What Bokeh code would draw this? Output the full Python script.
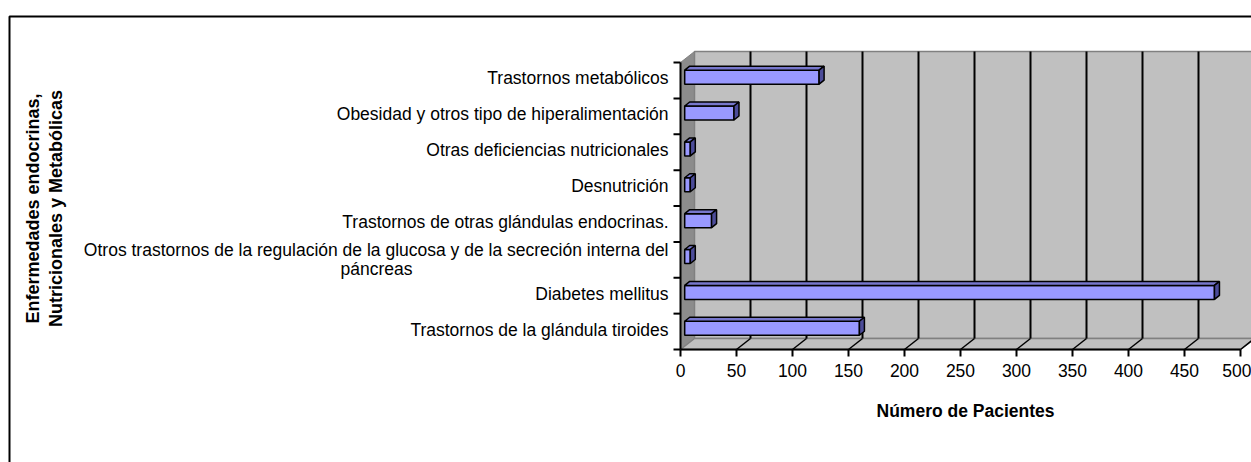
import math
from bokeh.plotting import figure
from bokeh.models import Range1d, LinearAxis, FixedTicker, Label, PolyAnnotation
from bokeh.embed import file_html
from bokeh.resources import INLINE

# ---- data (bottom to top) ----
categories = [
    "Trastornos de la glándula tiroides",
    "Diabetes mellitus",
    "Otros trastornos de la regulación de la glucosa y de la secreción interna del\npáncreas",
    "Trastornos de otras glándulas endocrinas.",
    "Desnutrición",
    "Otras deficiencias nutricionales",
    "Obesidad y otros tipo de hiperalimentación",
    "Trastornos metabólicos",
]
values = [156, 473, 5, 24, 5, 5, 44, 120]
x_ticks = [0, 50, 100, 150, 200, 250, 300, 350, 400, 450, 500]
x_title = "Número de Pacientes"
y_title_lines = ["Enfermedades endocrinas,", "Nutricionales y Metabólicas"]

# ---- layout constants ----
FONT = "Liberation Sans"
FS = "17.5px"
W, H = 1251, 462
X0PX, Y0PX = 680, 349   # pixel position of the value origin
SX = 1.12               # px per value unit
SY = 35.875             # px per category
n = len(categories)
x_max = x_ticks[-1]


def dx(px):
    return (px - X0PX) / SX


def dy(py):
    return (Y0PX - py) / SY


DX = 14 / SX   # 3D depth offsets (data units)
DY = 11 / SY

p = figure(width=W, height=H,
           x_range=Range1d(dx(0), dx(W)), y_range=Range1d(dy(H), dy(0)),
           x_axis_type=None, y_axis_type=None, output_backend="svg",
           toolbar_location=None, min_border_left=0, min_border_right=0,
           min_border_top=0, min_border_bottom=0)
p.outline_line_color = None
p.background_fill_color = "white"
p.border_fill_color = "white"

# walls and floor
p.patch([0, DX, DX, 0], [0, DY, n + DY, n], fill_color="#8c8c8c", line_color="#808080", line_width=1)
p.quad(left=[DX], right=[DX + x_max], bottom=[DY], top=[n + DY],
       fill_color="#C0C0C0", line_color="#808080", line_width=1.5)
p.patch([0, x_max, x_max + DX, DX], [0, 0, DY, DY], fill_color="#C0C0C0",
        line_color="#808080", line_width=1.5)

# gridlines on back wall and floor
gt = x_ticks[1:]
p.segment(x0=[DX + t for t in gt], y0=[DY] * len(gt), x1=[DX + t for t in gt], y1=[n + DY] * len(gt),
          line_color="black", line_width=2)
p.segment(x0=gt, y0=[0] * len(gt), x1=[DX + t for t in gt], y1=[DY] * len(gt),
          line_color="black", line_width=1.5)

# bars
fdx, fdy = 0.3 * DX, 0.3 * DY
bdx, bdy = 5 / SX, 4 / SY
hh = 7 / SY
centers = [i + 0.5 for i in range(n)]
lefts = [fdx] * n
rights = [fdx + v for v in values]
bots = [c + fdy - hh for c in centers]
tops = [c + fdy + hh for c in centers]
p.quad(left=lefts, right=rights, bottom=bots, top=tops, fill_color="#9999FF",
       line_color="black", line_width=1.5)
p.patches(xs=[[l, r, r + bdx, l + bdx] for l, r in zip(lefts, rights)],
          ys=[[t, t, t + bdy, t + bdy] for t in tops],
          fill_color="#7777CC", line_color="black", line_width=1.5)
p.patches(xs=[[r, r + bdx, r + bdx, r] for r in rights],
          ys=[[b, b + bdy, t + bdy, t] for b, t in zip(bots, tops)],
          fill_color="#4C4C99", line_color="black", line_width=1.5)

# x axis (drawn at the value origin)
xaxis = LinearAxis(ticker=FixedTicker(ticks=x_ticks), bounds=(0, x_max), fixed_location=0)
xaxis.axis_line_width = 2
xaxis.major_tick_line_width = 2
xaxis.major_tick_out = 7
xaxis.major_tick_in = 0
xaxis.minor_tick_out = 0
xaxis.major_label_standoff = 7
xaxis.major_label_text_font = FONT
xaxis.major_label_text_font_size = FS
xaxis.major_label_text_color = "black"
p.add_layout(xaxis, "below")

# category axis: line and boundary ticks
bounds_y = list(range(n + 1))
p.segment(x0=[0], y0=[0], x1=[0], y1=[n], line_color="black", line_width=2)
p.segment(x0=[-7 / SX] * len(bounds_y), y0=bounds_y, x1=[0] * len(bounds_y), y1=bounds_y,
          line_color="black", line_width=2)

# x title
p.add_layout(Label(x=dx(965), y=dy(410), text=x_title, text_align="center",
                   text_baseline="middle", text_font=FONT, text_font_size=FS,
                   text_font_style="bold", text_color="black"))

# category labels
for c, name in zip(centers, categories):
    lines = name.split("\n")
    if len(lines) == 1:
        p.add_layout(Label(x=0, y=c + 2 / SY, x_offset=-12, text=name, text_align="right",
                           text_baseline="middle", text_font=FONT, text_font_size=FS,
                           text_color="black"))
    else:
        p.add_layout(Label(x=0, y=c + 9.5 / SY, x_offset=-12, text=lines[0], text_align="right",
                           text_baseline="middle", text_font=FONT, text_font_size=FS,
                           text_color="black"))
        p.add_layout(Label(x=0, y=c - 9.5 / SY, x_offset=-304, text=lines[1], text_align="center",
                           text_baseline="middle", text_font=FONT, text_font_size=FS,
                           text_color="black"))

# y title (rotated, two lines)
for k, line in enumerate(y_title_lines):
    p.add_layout(Label(x=dx(32 + 23 * k), y=dy(208), text=line,
                       angle=math.pi / 2, text_align="center", text_baseline="middle",
                       text_font=FONT, text_font_size="18px", text_font_style="bold",
                       text_color="black"))

# outer chart border
p.add_layout(PolyAnnotation(xs=[dx(9), dx(W + 50), dx(W + 50), dx(9)],
                            ys=[dy(16), dy(16), dy(H + 50), dy(H + 50)],
                            fill_color=None, line_color="black", line_alpha=1.0, line_width=2))

open("out.html", "w").write(file_html(p, INLINE))
